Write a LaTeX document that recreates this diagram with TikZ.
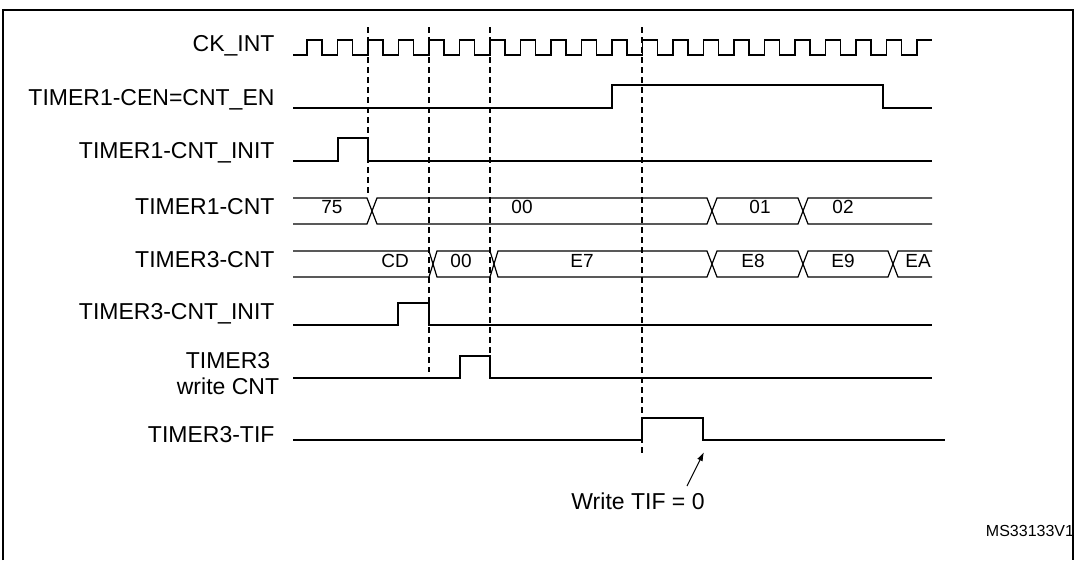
\documentclass[tikz,border=0pt]{standalone}
\usepackage{fontspec}
\setmainfont{Liberation Sans}
\usetikzlibrary{arrows.meta}
\begin{document}
\begin{tikzpicture}[x=1pt,y=-1pt,
  sig/.style={line width=1.2pt,line join=miter},
  lab/.style={anchor=east,font=\fontsize{23}{26}\selectfont,align=center},
  val/.style={font=\fontsize{19}{21}\selectfont},
  dsh/.style={line width=1.2pt,dash pattern=on 6pt off 4pt}]
\useasboundingbox (0,0) rectangle (1077,560);
\fill[white] (0,0) rectangle (1077,560);
\draw[line width=1.3pt] (3,560) -- (3,10) -- (1073,10) -- (1073,560);
% labels
\node[lab] (l1) at (278,46) {CK\_INT};
\node[lab] (l2) at (278,100) {TIMER1-CEN=CNT\_EN};
\node[lab] (l3) at (278,153) {TIMER1-CNT\_INIT};
\node[lab] (l4) at (278,207) {TIMER1-CNT};
\node[lab] (l5) at (278,260) {TIMER3-CNT};
\node[lab] (l6) at (278,314) {TIMER3-CNT\_INIT};
\node[lab,anchor=center] (l7) at (228,374) {TIMER3\\write CNT};
\node[lab] (l8) at (278,435) {TIMER3-TIF};
% clock
\draw[sig] (293,55) -- (307,55)
  \foreach \k in {0,...,19} { -- ({307+30.5*\k},55) -- ({307+30.5*\k},40) -- ({322+30.5*\k},40) -- ({322+30.5*\k},55) -- ({337.5+30.5*\k},55) }
  -- (917,55) -- (917,40) -- (932,40);
% CEN
\draw[sig] (293,108) -- (612,108) -- (612,85) -- (883,85) -- (883,108) -- (932,108);
% CNT_INIT 1
\draw[sig] (293,161) -- (338,161) -- (338,138) -- (368,138) -- (368,161) -- (932,161);
% TIMER1-CNT bus
\def\ta{198}\def\tb{224}
\draw[sig] (293,\ta) -- (367,\ta) -- (377,\tb) -- (707,\tb) -- (717,\ta) -- (798,\ta) -- (808,\tb) -- (932,\tb);
\draw[sig] (293,\tb) -- (367,\tb) -- (377,\ta) -- (707,\ta) -- (717,\tb) -- (798,\tb) -- (808,\ta) -- (932,\ta);
\node[val] (v1) at (332,207) {75};
\node[val] (v2) at (522,207) {00};
\node[val] (v3) at (760,207) {01};
\node[val] (v4) at (843,207) {02};
% TIMER3-CNT bus
\def\ua{251}\def\ub{277}
\draw[sig] (293,\ua) -- (429,\ua) -- (437,\ub) -- (490,\ub) -- (498,\ua) -- (707,\ua) -- (717,\ub) -- (798,\ub) -- (808,\ua) -- (888,\ua) -- (898,\ub) -- (932,\ub);
\draw[sig] (293,\ub) -- (429,\ub) -- (437,\ua) -- (490,\ua) -- (498,\ub) -- (707,\ub) -- (717,\ua) -- (798,\ua) -- (808,\ub) -- (888,\ub) -- (898,\ua) -- (932,\ua);
\node[val] (w1) at (395,261) {CD};
\node[val] (w2) at (461,261) {00};
\node[val] (w3) at (582,261) {E7};
\node[val] (w4) at (753,261) {E8};
\node[val] (w5) at (843,261) {E9};
\node[val] (w6) at (918,261) {EA};
% TIMER3-CNT_INIT
\draw[sig] (293,325) -- (398,325) -- (398,303) -- (429,303) -- (429,325) -- (932,325);
% write CNT
\draw[sig] (293,378) -- (460,378) -- (460,356) -- (490,356) -- (490,378) -- (932,378);
% TIF
\draw[sig] (293,440) -- (642,440) -- (642,418) -- (703,418) -- (703,440) -- (945,440);
% dashed
\draw[dsh] (368,27) -- (368,195);
\draw[dsh] (429,27) -- (429,372);
\draw[dsh] (490,27) -- (490,378);
\draw[dsh] (642,27) -- (642,455);
% annotation
\node[lab,anchor=center] (wt) at (638,501) {Write TIF = 0};
\coordinate (as) at (687,486);
\coordinate (ae) at (704,452);
\draw[line width=1.1pt,-{Latex[length=9pt,width=6pt]}] (as) -- (ae);
\node[font=\fontsize{16}{18}\selectfont] (ms) at (1030,531) {MS33133V1};
\end{tikzpicture}
\end{document}
